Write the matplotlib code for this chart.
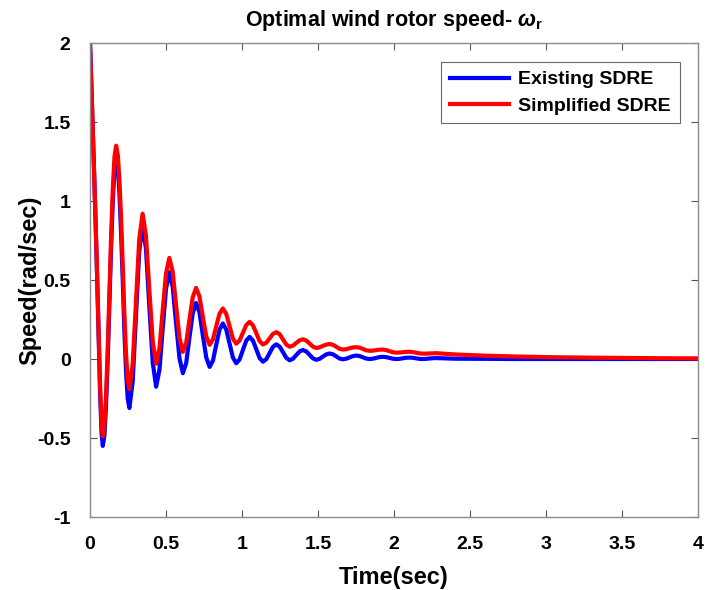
import matplotlib
matplotlib.use('Agg')
import matplotlib.pyplot as plt

plt.rcParams['font.family'] = ['Liberation Sans', 'DejaVu Sans']
plt.rcParams['font.weight'] = 'bold'
plt.rcParams['mathtext.fontset'] = 'custom'
plt.rcParams['mathtext.rm'] = 'Liberation Sans'
plt.rcParams['mathtext.it'] = 'Liberation Sans:italic'
plt.rcParams['mathtext.bf'] = 'Liberation Sans:bold'

# values
time = [0, 0.014, 0.028, 0.042, 0.056, 0.066, 0.076, 0.084,
        0.095, 0.106, 0.117, 0.128, 0.139, 0.150, 0.161, 0.172,
        0.183, 0.194, 0.205, 0.216, 0.226, 0.237, 0.248, 0.259,
        0.281, 0.3025, 0.324, 0.346, 0.368, 0.390, 0.413, 0.435,
        0.457, 0.478, 0.500, 0.522, 0.544, 0.566, 0.589, 0.611,
        0.633, 0.654, 0.676, 0.698, 0.720, 0.742, 0.765, 0.787,
        0.809, 0.830, 0.852, 0.874, 0.896, 0.918, 0.940, 0.962,
        0.984, 1.006, 1.028, 1.050, 1.072, 1.094, 1.116, 1.138,
        1.160, 1.182, 1.204, 1.226, 1.248, 1.270, 1.292, 1.314,
        1.336, 1.357, 1.379, 1.401, 1.423, 1.445, 1.467, 1.489,
        1.511, 1.532, 1.554, 1.576, 1.598, 1.620, 1.642, 1.664,
        1.686, 1.707, 1.729, 1.751, 1.773, 1.795, 1.817, 1.839,
        1.861, 1.882, 1.904, 1.926, 1.948, 1.970, 1.992, 2.014,
        2.036, 2.057, 2.079, 2.101, 2.123, 2.145, 2.167, 2.189,
        2.211, 2.232, 2.254, 2.276,
        2.4, 2.6, 2.8, 3.0, 3.25, 3.5, 3.75, 4.0]

existing_sdre = [2.0, 1.58, 1.15, 0.69, 0.17, -0.21, -0.47, -0.55,
                 -0.48, -0.28, 0.01, 0.36, 0.71, 1.00, 1.20, 1.27,
                 1.21, 1.04, 0.78, 0.48, 0.18, -0.08, -0.25, -0.31,
                 -0.141, 0.27, 0.681, 0.85, 0.70, 0.338, -0.025, -0.175,
                 -0.069, 0.188, 0.444, 0.55, 0.457, 0.23, 0.003, -0.09,
                 -0.025, 0.133, 0.29, 0.355, 0.296, 0.153, 0.009, -0.05,
                 -0.01, 0.088, 0.185, 0.225, 0.188, 0.099, 0.01, -0.027,
                 -0.003, 0.057, 0.116, 0.14, 0.117, 0.062, 0.006, -0.017,
                 -0.001, 0.038, 0.077, 0.093, 0.078, 0.043, 0.007, -0.008,
                 0.002, 0.025, 0.048, 0.057, 0.048, 0.026, 0.004, -0.005,
                 0.001, 0.015, 0.029, 0.035, 0.030, 0.017, 0.003, -0.002,
                 0.002, 0.010, 0.018, 0.022, 0.019, 0.011, 0.003, 0.0,
                 0.002, 0.007, 0.012, 0.014, 0.012, 0.007, 0.002, 0.0,
                 0.001, 0.0045, 0.008, 0.009, 0.008, 0.0045, 0.001, 0.0,
                 0.001, 0.003, 0.005, 0.006,
                 0.002, 0.001, 0.0, 0.0, 0.0, 0.0, 0.0, 0.0]

simplified_sdre = [2.0, 1.58, 1.15, 0.70, 0.20, -0.16, -0.41, -0.49,
                   -0.42, -0.22, 0.08, 0.43, 0.78, 1.08, 1.28, 1.35,
                   1.29, 1.125, 0.874, 0.58, 0.286, 0.035, -0.131, -0.19,
                   -0.028, 0.365, 0.758, 0.92, 0.781, 0.445, 0.109, -0.03,
                   0.068, 0.305, 0.542, 0.64, 0.553, 0.343, 0.132, 0.045,
                   0.104, 0.248, 0.391, 0.45, 0.397, 0.27, 0.143, 0.09,
                   0.124, 0.205, 0.286, 0.32, 0.287, 0.209, 0.130, 0.097,
                   0.117, 0.166, 0.215, 0.235, 0.214, 0.164, 0.113, 0.092,
                   0.103, 0.131, 0.159, 0.17, 0.157, 0.124, 0.091, 0.078,
                   0.085, 0.102, 0.118, 0.125, 0.117, 0.098, 0.078, 0.07,
                   0.074, 0.083, 0.091, 0.095, 0.090, 0.078, 0.065, 0.06,
                   0.062, 0.068, 0.073, 0.075, 0.072, 0.064, 0.055, 0.052,
                   0.053, 0.056, 0.059, 0.06, 0.057, 0.05, 0.043, 0.04,
                   0.041, 0.043, 0.045, 0.046, 0.044, 0.04, 0.036, 0.034,
                   0.034, 0.035, 0.036, 0.037,
                   0.029, 0.021, 0.016, 0.012, 0.009, 0.007, 0.005, 0.004]

xticks = [0, 0.5, 1, 1.5, 2, 2.5, 3, 3.5, 4]
yticks = [-1, -0.5, 0, 0.5, 1, 1.5, 2]

fig = plt.figure(figsize=(7.06, 5.90), dpi=100)
ax = fig.add_axes([0.1275, 0.1237, 0.861, 0.8034])

ax.plot(time, existing_sdre, color='blue', lw=3.0, label='Existing SDRE',
        solid_joinstyle='round')
ax.plot(time, simplified_sdre, color='red', lw=3.0, label='Simplified SDRE',
        solid_joinstyle='round')

ax.set_xlim(0, 4)
ax.set_ylim(-1, 2)
ax.set_xticks(xticks)
ax.set_yticks(yticks)
ax.set_xticklabels(['0', '0.5', '1', '1.5', '2', '2.5', '3', '3.5', '4'])
ax.set_yticklabels(['-1', '-0.5', '0', '0.5', '1', '1.5', '2'])
ax.tick_params(direction='in', top=True, right=True, length=5, width=0.8,
               color='#555555', labelsize=14)
ax.tick_params(axis='x', pad=14)
ax.tick_params(axis='y', pad=14)
for s in ax.spines.values():
    s.set_color('#8c8c8c')
    s.set_linewidth(1.0)

ax.set_xlabel('Time(sec)', fontsize=17, fontweight='bold', labelpad=9)
ax.set_ylabel('Speed(rad/sec)', fontsize=17, fontweight='bold', labelpad=-3)
ax.set_title(r'Optimal wind rotor speed- $\omega_{\mathbf{r}}$', fontsize=15.5,
             fontweight='bold', pad=12)

leg = ax.legend(loc='upper right', bbox_to_anchor=(0.970, 0.960), fontsize=14,
                frameon=True, fancybox=False, handlelength=3.0,
                borderpad=0.45, labelspacing=0.45, handletextpad=0.5,
                borderaxespad=0)
leg.get_frame().set_edgecolor('#444444')
leg.get_frame().set_linewidth(0.8)

fig.savefig('out.png', dpi=100)
